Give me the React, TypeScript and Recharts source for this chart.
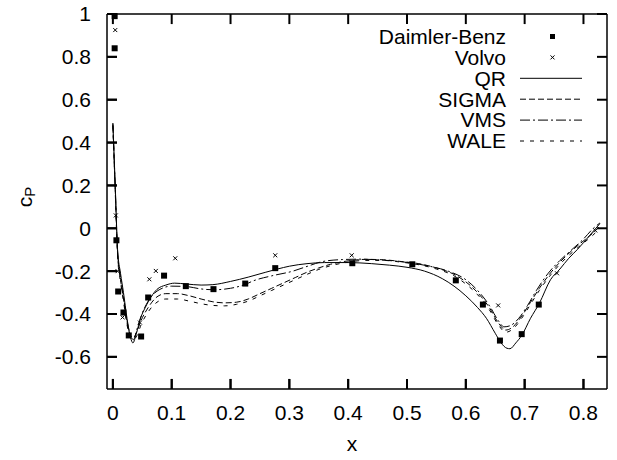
import React from 'react';
import { ComposedChart, Line, Scatter, XAxis, YAxis, ReferenceLine } from 'recharts';

// chord position x and pressure coefficient
const qrX = [0, 0.004, 0.008, 0.013, 0.018, 0.024, 0.03, 0.034, 0.04, 0.047, 0.055, 0.065, 0.075, 0.09, 0.105, 0.125, 0.15, 0.17, 0.2, 0.23, 0.26, 0.28, 0.3, 0.33, 0.36, 0.4, 0.44, 0.47, 0.5, 0.53, 0.56, 0.58, 0.6, 0.62, 0.635, 0.65, 0.66, 0.67, 0.675, 0.685, 0.695, 0.71, 0.725, 0.744, 0.76, 0.775, 0.79, 0.81, 0.828];
const qrY = [0.49, 0.2, -0.1, -0.21, -0.3, -0.42, -0.51, -0.535, -0.49, -0.42, -0.37, -0.32, -0.285, -0.265, -0.256, -0.26, -0.265, -0.263, -0.248, -0.228, -0.205, -0.19, -0.177, -0.165, -0.16, -0.16, -0.165, -0.172, -0.182, -0.2, -0.235, -0.27, -0.315, -0.37, -0.42, -0.49, -0.535, -0.56, -0.562, -0.535, -0.5, -0.42, -0.35, -0.24, -0.19, -0.14, -0.098, -0.035, 0.022];

const vmsX = [0, 0.004, 0.008, 0.013, 0.018, 0.024, 0.03, 0.035, 0.041, 0.048, 0.06, 0.08, 0.1, 0.125, 0.15, 0.171, 0.2, 0.225, 0.239, 0.27, 0.306, 0.33, 0.357, 0.39, 0.42, 0.45, 0.48, 0.51, 0.54, 0.57, 0.6, 0.62, 0.64, 0.655, 0.665, 0.675, 0.69, 0.705, 0.72, 0.74, 0.76, 0.78, 0.8, 0.815, 0.828];
const vmsY = [0.49, 0.19, -0.11, -0.23, -0.32, -0.43, -0.5, -0.52, -0.47, -0.41, -0.34, -0.285, -0.27, -0.272, -0.283, -0.287, -0.28, -0.262, -0.245, -0.222, -0.2, -0.178, -0.155, -0.146, -0.144, -0.147, -0.153, -0.163, -0.178, -0.2, -0.24, -0.29, -0.36, -0.43, -0.46, -0.455, -0.42, -0.36, -0.29, -0.21, -0.15, -0.1, -0.05, -0.005, 0.025];

const sigmaX = [0, 0.004, 0.008, 0.013, 0.018, 0.024, 0.03, 0.035, 0.041, 0.048, 0.06, 0.075, 0.09, 0.11, 0.13, 0.15, 0.17, 0.19, 0.21, 0.23, 0.25, 0.27, 0.29, 0.31, 0.33, 0.35, 0.37, 0.4, 0.43, 0.46, 0.49, 0.52, 0.55, 0.58, 0.6, 0.62, 0.64, 0.655, 0.668, 0.68, 0.695, 0.71, 0.725, 0.745, 0.77, 0.795, 0.815, 0.828];
const sigmaY = [0.48, 0.18, -0.12, -0.24, -0.33, -0.44, -0.5, -0.51, -0.48, -0.43, -0.37, -0.32, -0.305, -0.305, -0.315, -0.33, -0.343, -0.348, -0.345, -0.33, -0.305, -0.28, -0.255, -0.23, -0.205, -0.185, -0.168, -0.152, -0.145, -0.147, -0.155, -0.165, -0.185, -0.215, -0.25, -0.3, -0.37, -0.44, -0.475, -0.46, -0.41, -0.345, -0.28, -0.205, -0.13, -0.07, -0.025, 0.01];

const waleX = [0, 0.004, 0.008, 0.013, 0.018, 0.024, 0.03, 0.035, 0.041, 0.048, 0.06, 0.075, 0.09, 0.11, 0.13, 0.15, 0.17, 0.19, 0.21, 0.23, 0.25, 0.27, 0.29, 0.31, 0.33, 0.35, 0.37, 0.4, 0.43, 0.46, 0.49, 0.52, 0.55, 0.58, 0.6, 0.62, 0.64, 0.655, 0.668, 0.68, 0.695, 0.71, 0.725, 0.745, 0.77, 0.795, 0.815, 0.828];
const waleY = [0.48, 0.17, -0.13, -0.25, -0.34, -0.45, -0.51, -0.52, -0.5, -0.45, -0.39, -0.345, -0.33, -0.33, -0.34, -0.352, -0.36, -0.362, -0.355, -0.34, -0.315, -0.29, -0.265, -0.24, -0.215, -0.192, -0.175, -0.158, -0.15, -0.15, -0.158, -0.17, -0.19, -0.222, -0.26, -0.31, -0.38, -0.45, -0.485, -0.47, -0.42, -0.355, -0.29, -0.215, -0.14, -0.08, -0.035, 0];

const daimlerX = [0.003, 0.003, 0.006, 0.009, 0.018, 0.027, 0.048, 0.06, 0.087, 0.124, 0.171, 0.225, 0.276, 0.407, 0.509, 0.583, 0.629, 0.658, 0.695, 0.724];
const daimlerY = [0.99, 0.84, -0.056, -0.295, -0.393, -0.5, -0.505, -0.323, -0.221, -0.27, -0.284, -0.258, -0.186, -0.163, -0.168, -0.243, -0.356, -0.524, -0.494, -0.356];

const volvoX = [0.004, 0.005, 0.008, 0.0165, 0.046, 0.062, 0.073, 0.106, 0.276, 0.406, 0.655, 0.755, 0.82];
const volvoY = [0.925, 0.06, -0.2, -0.416, -0.44, -0.238, -0.199, -0.14, -0.126, -0.126, -0.36, -0.21, -0.01];

const xTicks = [0, 0.1, 0.2, 0.3, 0.4, 0.5, 0.6, 0.7, 0.8];
const yTicks = [-0.6, -0.4, -0.2, 0, 0.2, 0.4, 0.6, 0.8, 1];

const toPoints = (xs: number[], ys: number[]) => xs.map((x, i) => ({ x, y: ys[i] }));

const qr = toPoints(qrX, qrY);
const vms = toPoints(vmsX, vmsY);
const sigma = toPoints(sigmaX, sigmaY);
const wale = toPoints(waleX, waleY);
const daimler = toPoints(daimlerX, daimlerY);
const volvo = toPoints(volvoX, volvoY);

const X_DOMAIN: [number, number] = [-0.01, 0.84];
const Y_DOMAIN: [number, number] = [-0.75, 1];
// tick length (about 10px) in data units along each axis
const X_TICK = 0.017;
const Y_TICK = 0.047;

const FONT = '"Liberation Sans", Arial, sans-serif';
const FS = 21;
const W = 617;
const H = 460;
const GAP = 16; // label distance from the frame
const TICK_LEN = 10;

const SIGMA_DASH = '6 3';
const VMS_DASH = '10 3 2 3';
const WALE_DASH = '4 6';

const Square = (props: any) => {
  const { cx, cy } = props;
  if (cx == null || cy == null) return <g />;
  return <rect x={cx - 3} y={cy - 3} width={6} height={6} fill="#000" />;
};

const Cross = (props: any) => {
  const { cx, cy } = props;
  if (cx == null || cy == null) return <g />;
  const s = 2;
  return (
    <path d={`M${cx - s},${cy - s}L${cx + s},${cy + s}M${cx - s},${cy + s}L${cx + s},${cy - s}`} stroke="#000" strokeWidth={1} />
  );
};

const BottomTick = (props: any) => {
  const { x, y, payload } = props;
  return (
    <g>
      <line x1={x} x2={x} y1={y - GAP} y2={y - GAP - TICK_LEN} stroke="#000" strokeWidth={2} />
      <text x={x} y={y} dy="0.71em" textAnchor="middle" fontSize={FS} fontFamily={FONT} fill="#000">{String(payload.value)}</text>
    </g>
  );
};

const LeftTick = (props: any) => {
  const { x, y, payload } = props;
  return (
    <g>
      <line x1={x + GAP} x2={x + GAP + TICK_LEN} y1={y} y2={y} stroke="#000" strokeWidth={2} />
      <text x={x} y={y} dy="0.355em" textAnchor="end" fontSize={FS} fontFamily={FONT} fill="#000">{String(payload.value)}</text>
    </g>
  );
};

const legendRows = [
  { name: 'Daimler-Benz', kind: 'square' },
  { name: 'Volvo', kind: 'cross' },
  { name: 'QR', kind: 'line', dash: undefined },
  { name: 'SIGMA', kind: 'line', dash: SIGMA_DASH },
  { name: 'VMS', kind: 'line', dash: VMS_DASH },
  { name: 'WALE', kind: 'line', dash: WALE_DASH },
];

const LegendBox = () => (
  <g fontFamily={FONT}>
    {legendRows.map((row, i) => {
      const y = 36.5 + i * 20.9;
      return (
        <g key={row.name}>
          <text x={506} y={y} dy="0.35em" textAnchor="end" fontSize={FS} fill="#000">{row.name}</text>
          {row.kind === 'square' && <rect x={550} y={y - 2.5} width={5} height={5} fill="#000" />}
          {row.kind === 'cross' && <Cross cx={552.5} cy={y} />}
          {row.kind === 'line' && (
            <line x1={520} x2={582} y1={y} y2={y} stroke="#000" strokeWidth={1} strokeDasharray={row.dash} />
          )}
        </g>
      );
    })}
  </g>
);

const XTitle = () => (
  <text x={352} y={451} textAnchor="middle" fontSize={FS} fontFamily={FONT} fill="#000">x</text>
);

const YTitle = () => (
  <text transform="translate(31.5,197) rotate(-90)" textAnchor="middle" fontSize={FS} fontFamily={FONT} fill="#000">
    c<tspan dy={3} fontSize={15}>P</tspan>
  </text>
);

const tickMark = (key: string, a: { x: number; y: number }, b: { x: number; y: number }) => (
  <ReferenceLine
    key={key}
    xAxisId="b"
    yAxisId="l"
    segment={[a, b]}
    stroke="#000"
    strokeWidth={2}
    ifOverflow="visible"
  />
);

export default function App() {
  const [x0, x1] = X_DOMAIN;
  const [y0, y1] = Y_DOMAIN;
  return (
    <div style={{ position: 'absolute', left: 0, top: 0, width: W, height: H, background: '#fff' }}>
      <ComposedChart width={W} height={H} margin={{ top: 13, right: 9, bottom: 31, left: 0 }}>
        <XAxis
          xAxisId="b"
          type="number"
          dataKey="x"
          domain={X_DOMAIN}
          ticks={xTicks}
          height={40}
          stroke="#000"
          axisLine={{ stroke: '#000', strokeWidth: 1.5 }}
          tickLine={false}
          tickSize={0}
          tickMargin={GAP}
          tick={BottomTick}
          label={{ content: XTitle }}
        />
        <XAxis
          xAxisId="t"
          orientation="top"
          type="number"
          dataKey="x"
          domain={X_DOMAIN}
          ticks={xTicks}
          height={1}
          stroke="#000"
          axisLine={{ stroke: '#000', strokeWidth: 1.5 }}
          tickLine={false}
          tick={false}
          label={{ content: LegendBox }}
        />
        <YAxis
          yAxisId="l"
          type="number"
          dataKey="y"
          domain={Y_DOMAIN}
          ticks={yTicks}
          width={107}
          stroke="#000"
          axisLine={{ stroke: '#000', strokeWidth: 1.5 }}
          tickLine={false}
          tickSize={0}
          tickMargin={GAP}
          tick={LeftTick}
          label={{ content: YTitle }}
        />
        <YAxis
          yAxisId="r"
          orientation="right"
          type="number"
          dataKey="y"
          domain={Y_DOMAIN}
          ticks={yTicks}
          width={1}
          stroke="#000"
          axisLine={{ stroke: '#000', strokeWidth: 1.5 }}
          tickLine={false}
          tick={false}
        />
        {xTicks.map((v) => tickMark(`b${v}`, { x: v, y: y0 }, { x: v, y: y0 + Y_TICK }))}
        {xTicks.map((v) => tickMark(`t${v}`, { x: v, y: y1 }, { x: v, y: y1 - Y_TICK }))}
        {yTicks.map((v) => tickMark(`l${v}`, { x: x0, y: v }, { x: x0 + X_TICK, y: v }))}
        {yTicks.map((v) => tickMark(`r${v}`, { x: x1, y: v }, { x: x1 - X_TICK, y: v }))}
        <Line xAxisId="b" yAxisId="l" data={qr} dataKey="y" type="monotone" stroke="#000" strokeWidth={1} dot={false} isAnimationActive={false} />
        <Line xAxisId="b" yAxisId="l" data={sigma} dataKey="y" type="monotone" stroke="#000" strokeWidth={1} strokeDasharray={SIGMA_DASH} dot={false} isAnimationActive={false} />
        <Line xAxisId="b" yAxisId="l" data={vms} dataKey="y" type="monotone" stroke="#000" strokeWidth={1} strokeDasharray={VMS_DASH} dot={false} isAnimationActive={false} />
        <Line xAxisId="b" yAxisId="l" data={wale} dataKey="y" type="monotone" stroke="#000" strokeWidth={1} strokeDasharray={WALE_DASH} dot={false} isAnimationActive={false} />
        <Scatter xAxisId="b" yAxisId="l" data={daimler} dataKey="y" shape={Square} isAnimationActive={false} />
        <Scatter xAxisId="b" yAxisId="l" data={volvo} dataKey="y" shape={Cross} isAnimationActive={false} />
      </ComposedChart>
    </div>
  );
}
